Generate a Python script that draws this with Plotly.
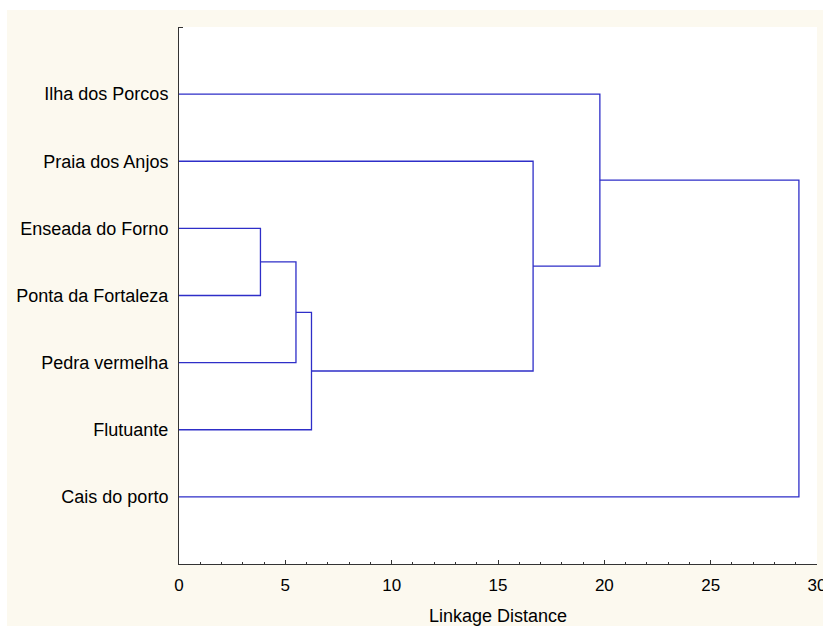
import plotly.graph_objects as go

# Sites, listed top to bottom as they appear on the tree
sites = [
    "Ilha dos Porcos",
    "Praia dos Anjos",
    "Enseada do Forno",
    "Ponta da Fortaleza",
    "Pedra vermelha",
    "Flutuante",
    "Cais do porto",
]

# Agglomeration steps: (left member, right member, linkage distance)
# Members are site names or the index of an earlier step ("#k").
merge_left = ["Enseada do Forno", "#0", "#1", "#2", "Ilha dos Porcos", "#4"]
merge_right = ["Ponta da Fortaleza", "Pedra vermelha", "Flutuante", "Praia dos Anjos", "#3", "Cais do porto"]
merge_dist = [3.83, 5.50, 6.23, 16.65, 19.79, 29.15]

x_ticks = [0, 5, 10, 15, 20, 25, 30]

# Leaf positions: top site gets the highest slot
n = len(sites)
leaf_pos = {name: n - i for i, name in enumerate(sites)}

node_xy = []


def member_xy(m):
    if m.startswith("#"):
        return node_xy[int(m[1:])]
    return (0.0, float(leaf_pos[m]))


xs, ys = [], []
for a, b, d in zip(merge_left, merge_right, merge_dist):
    xa, ya = member_xy(a)
    xb, yb = member_xy(b)
    xs += [xa, d, d, xb, None]
    ys += [ya, ya, yb, yb, None]
    node_xy.append((d, (ya + yb) / 2.0))

fig = go.Figure(
    go.Scatter(
        x=xs,
        y=ys,
        mode="lines",
        line=dict(color="#2e2ec8", width=1.3),
        hoverinfo="skip",
        showlegend=False,
        cliponaxis=False,
    )
)

cream = "#fcf9ef"
font_family = "Liberation Sans, Arial, sans-serif"

fig.update_layout(
    width=823,
    height=626,
    margin=dict(l=179, r=6, t=27, b=62, autoexpand=False),
    paper_bgcolor=cream,
    plot_bgcolor="white",
    font=dict(family=font_family, color="#000000", size=17),
    shapes=[
        # thin white border strips along the top and left edges of the page
        dict(type="rect", xref="paper", yref="paper", x0=-0.35, x1=1.1,
             y0=1 + 17 / 537, y1=1.2, fillcolor="white", line=dict(width=0), layer="below"),
        dict(type="rect", xref="paper", yref="paper", x0=-0.35, x1=-172 / 638,
             y0=-0.2, y1=1.2, fillcolor="white", line=dict(width=0), layer="below"),
    ],
)

fig.update_xaxes(
    range=[0, 30],
    tickvals=x_ticks,
    ticktext=[str(v) for v in x_ticks],
    ticks="inside",
    ticklen=4,
    tickcolor="#333333",
    tickfont=dict(size=17, family=font_family, color="#000000"),
    ticklabelstandoff=6,
    ticklabeloverflow="allow",
    showline=True,
    linecolor="#333333",
    linewidth=1,
    showgrid=False,
    zeroline=False,
    minor=dict(ticks="inside", dtick=1, ticklen=2, tickcolor="#333333"),
    title=dict(text="Linkage Distance", font=dict(size=18, family=font_family, color="#000000"), standoff=14),
    automargin=False,
    fixedrange=True,
)

fig.update_yaxes(
    range=[0, n + 1],
    tickvals=[leaf_pos[s] for s in sites],
    ticktext=sites,
    ticks="",
    tickfont=dict(size=18, family=font_family, color="#000000"),
    ticklabelstandoff=6,
    showline=True,
    linecolor="#333333",
    linewidth=1,
    showgrid=False,
    zeroline=False,
    minor=dict(ticks="inside", tick0=0, dtick=n + 1, ticklen=4, tickcolor="#333333"),
    automargin=False,
    fixedrange=True,
)

fig.write_html("out.html")
